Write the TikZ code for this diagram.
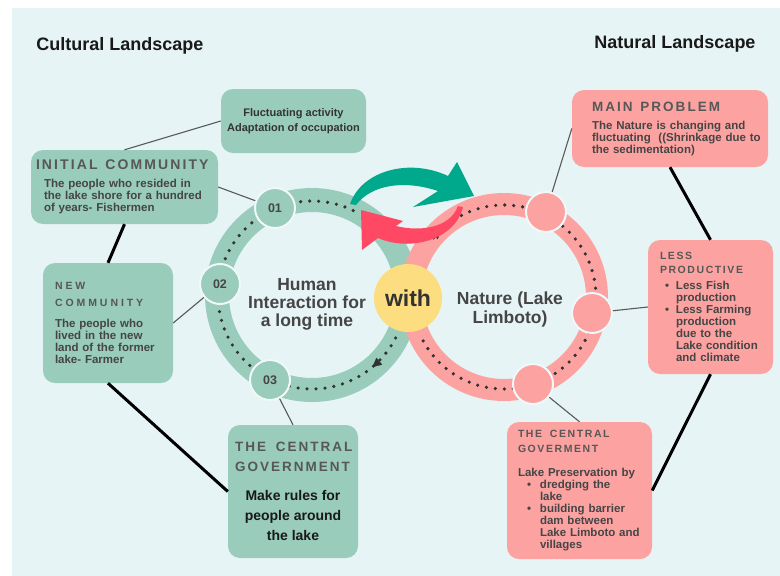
\documentclass[tikz,border=0pt]{standalone}
\usepackage{fontspec}
\setmainfont{Liberation Sans}
\newfontfamily\tracked[LetterSpace=15]{Liberation Sans}
\usetikzlibrary{arrows.meta,calc}

\definecolor{paper}{HTML}{E6F4F5}
\definecolor{mint}{HTML}{99CCBB}
\definecolor{rose}{HTML}{FCA3A2}
\definecolor{sun}{HTML}{FCDD80}
\definecolor{jade}{HTML}{00A98B}
\definecolor{coral}{HTML}{FF4863}
\definecolor{ink}{HTML}{454545}
\definecolor{capgray}{HTML}{575757}

\newcommand\capsb[2][13.5]{{\tracked\fontsize{#1}{16}\selectfont\color{capgray}#2}}
\newcommand\capsl[2][15]{{\tracked\addfontfeature{LetterSpace=#1}\fontsize{10.5}{12}\selectfont\color{capgray}#2}}
\newcommand\gap{\hspace{4pt}}

\begin{document}
\begin{tikzpicture}
[x=1pt, y=1pt,
box/.style={rectangle, rounded corners=12pt, inner sep=0pt, align=left, text=ink, font=\bfseries\fontsize{11.5}{12}\selectfont},
gbox/.style={box, fill=mint},
pbox/.style={box, fill=rose},
spot/.style={circle, minimum size=40pt, inner sep=0pt, draw=paper!60!white, line width=2pt, font=\bfseries\fontsize{12.5}{14}\selectfont, text=ink},
link/.style={draw=black!65, line width=1.1pt},
bond/.style={draw=black, line width=3pt},
trail/.style={black!80, line width=3.6pt, line cap=round, dash pattern=on 0pt off 9pt},
heading/.style={font=\bfseries\fontsize{18}{20}\selectfont, text=black!90},
>/.tip={Triangle[length=9pt, width=9pt]}]

	\useasboundingbox (0,0) rectangle (780,-576);
	\fill[white] (0,0) rectangle (780,-576);
	\fill[paper] (12,-8) rectangle (780,-576);

	\node (cult) [heading] at (120,-46) {Cultural Landscape};
	\node (natu) [heading] at (675,-44) {Natural Landscape};

	% the two rings
	\coordinate (G) at (312,-295);
	\coordinate (P) at (504,-297);
	\draw[mint, line width=24pt] (G) circle[radius=95pt];
	\draw[rose, line width=22pt] (P) circle[radius=93pt];

	\draw[trail] (G) ++(64:94pt) arc[start angle=64, end angle=333, radius=94pt];
	\draw[trail] (P) ++(140:92pt) arc[start angle=140, end angle=-153, radius=92pt];
	\draw[black!80, line width=0.1pt, ->] (G) ++(-43:94pt) arc[start angle=-43, end angle=-50, radius=94pt];
	\draw[black!80, line width=0.1pt, ->] (P) ++(140:92pt) arc[start angle=140, end angle=133, radius=92pt];

	% swapping arrows
	\fill[coral] (458,-206) .. controls (450,-228) and (420,-232) .. (396,-226)
		-- (403,-221) -- (361,-210) -- (362,-250) -- (378,-238)
		.. controls (410,-252) and (455,-240) .. (463,-207) -- cycle;
	\fill[jade] (350,-204) .. controls (362,-170) and (410,-158) .. (448,-176)
		-- (457,-162) -- (474,-196) -- (413,-207) -- (438,-191)
		.. controls (405,-180) and (372,-184) .. (356,-205) -- cycle;

	\node (c01) [spot, fill=mint] at (275,-208) {01};
	\node (c02) [spot, fill=mint] at (220,-284) {02};
	\node (c03) [spot, fill=mint] at (270,-380) {03};
	\node (p1) [spot, fill=rose] at (546,-212) {};
	\node (p2) [spot, fill=rose] at (592,-313) {};
	\node (p3) [spot, fill=rose] at (533,-384) {};

	\node (with) [circle, fill=sun, minimum size=68pt, inner sep=0pt, font=\bfseries\fontsize{23}{24}\selectfont, text=black!80] at (408,-298) {with};
	\node (human) [align=center, font=\bfseries\fontsize{17.5}{18}\selectfont, text=ink] at (307,-304) {Human\\Interaction for\\a long time};
	\node (nature) [align=center, font=\bfseries\fontsize{17.5}{19}\selectfont, text=ink] at (510,-309) {Nature (Lake\\Limboto)};

	% cultural side
	\node (fluct) [gbox, minimum width=145pt, minimum height=64pt, align=center, font=\bfseries\fontsize{11}{15}\selectfont, text=black!80] at (293.5,-121) {Fluctuating activity\\Adaptation of occupation};
	\node (init) [gbox, minimum width=187pt, minimum height=74pt, text width=177pt] at (124.5,-187) {\capsb[14]{INITIAL \gap{}COMMUNITY}\\[6pt]
		\hspace*{8pt}The people who resided in\\
		\hspace*{8pt}the lake shore for a hundred\\
		\hspace*{8pt}of years- Fishermen};
	\node (newc) [gbox, minimum width=130pt, minimum height=120pt, text width=106pt] at (108,-323) {\capsl[28]{NEW}\\[5pt]\capsl[28]{COMMUNITY}\\[9pt]
		The people who\\lived in the new\\land of the former\\lake- Farmer};
	\node (govg) [gbox, minimum width=130pt, minimum height=133pt, align=center, font=\bfseries\fontsize{14}{20}\selectfont, text=black!90] at (293,-491.5) {\makebox[116pt][l]{\capsb{THE \gap{}CENTRAL}}\\
		\makebox[116pt][l]{\capsb{GOVERNMENT}}\\[9pt]
		Make rules for\\people around\\the lake};

	% natural side
	\node (mainp) [pbox, minimum width=196pt, minimum height=77pt, text width=156pt] at (670,-128.5) {\capsb{MAIN \gap{}PROBLEM}\\[6pt]
		\mbox{The Nature is changing and}\\\mbox{fluctuating\ \ ((Shrinkage due to}\\\mbox{the sedimentation)}};
	\node (lessp) [pbox, minimum width=125pt, minimum height=134pt, text width=101pt] at (710.5,-307) {\capsl{LESS}\\[2pt]\capsl{PRODUCTIVE}\\[4pt]
		\hspace*{5pt}\makebox[11pt][l]{\textbullet}Less Fish\\
		\hspace*{16pt}production\\
		\hspace*{5pt}\makebox[11pt][l]{\textbullet}Less Farming\\
		\hspace*{16pt}production\\
		\hspace*{16pt}due to the\\
		\hspace*{16pt}Lake condition\\
		\hspace*{16pt}and climate};
	\node (govp) [pbox, minimum width=145pt, minimum height=137pt, text width=123pt] at (579.5,-490.5) {\capsl{THE \gap{}CENTRAL}\\[3pt]\capsl{GOVERMENT}\\[12pt]
		Lake Preservation by\\
		\hspace*{9pt}\makebox[13pt][l]{\textbullet}dredging the\\
		\hspace*{22pt}lake\\
		\hspace*{9pt}\makebox[13pt][l]{\textbullet}building barrier\\
		\hspace*{22pt}dam between\\
		\hspace*{22pt}Lake Limboto and\\
		\hspace*{22pt}villages};

	\draw[link] (fluct.west) -- (init.north);
	\draw[link] (init.east) -- (c01);
	\draw[bond] (init.south) -- (newc.north);
	\draw[link] (newc.east) -- (c02);
	\draw[bond] (newc.south) -- (govg.west);
	\draw[link] (c03) -- (govg.north);
	\draw[link] (p1) -- (mainp.west);
	\draw[bond] (mainp.south) -- (lessp.north);
	\draw[link] (p2) -- (lessp.west);
	\draw[link] (p3) -- (govp.north);
	\draw[bond] (lessp.south) -- (govp.east);

\end{tikzpicture}
\end{document}
